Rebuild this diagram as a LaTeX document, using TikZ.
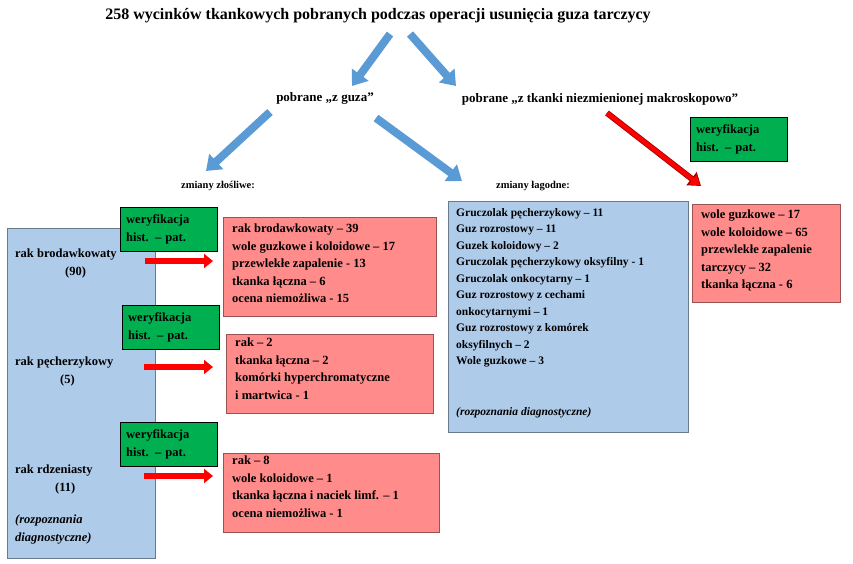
\documentclass[tikz,border=0pt]{standalone}
\usepackage{fontspec}
\setmainfont{Liberation Serif}
\usetikzlibrary{arrows.meta}
\begin{document}
\begin{tikzpicture}[x=1pt,y=-1pt,
  bx/.style={draw=#1!60!black, anchor=north west, inner sep=0pt, line width=0.8pt},
  txt/.style={font=\bfseries\fontsize{12.5}{17.5}\selectfont, align=left, anchor=north west, inner sep=0pt},
  ver/.style={draw=black, fill=vgreen, anchor=north west, minimum width=97pt, minimum height=44pt, font=\bfseries\fontsize{12.5}{17.5}\selectfont, align=left, text width=85pt, inner sep=5pt},
  barr/.style={line width=8pt, color=ablue, -{Triangle[length=14pt,width=20pt]}},
  rarr/.style={line width=6pt, color=ared, -{Triangle[length=9pt,width=14pt]}}]
\definecolor{lblue}{HTML}{AFCBEA}
\definecolor{lred}{HTML}{FF8B8B}
\definecolor{vgreen}{HTML}{00B050}
\definecolor{ablue}{HTML}{5B9BD5}
\definecolor{ared}{HTML}{FF0000}
\useasboundingbox (0,0) rectangle (853,564);
% title
\node[font=\bfseries\fontsize{16}{19}\selectfont] (title) at (378,16) {258 wycinków tkankowych pobranych podczas operacji usunięcia guza tarczycy};
\node[font=\bfseries\fontsize{13}{16}\selectfont] (guz) at (325,98) {pobrane „z guza”};
\node[font=\bfseries\fontsize{13}{16}\selectfont] (tk) at (600,99) {pobrane „z tkanki niezmienionej makroskopowo”};
\node[font=\bfseries\fontsize{10.5}{13}\selectfont] (zl) at (218,186) {zmiany złośliwe:};
\node[font=\bfseries\fontsize{10.5}{13}\selectfont] (lag) at (533,186) {zmiany łagodne:};
% blue arrows
\coordinate (a1s) at (390,34); \coordinate (a1e) at (352,86);
\coordinate (a2s) at (410,34); \coordinate (a2e) at (456,86);
\coordinate (a3s) at (270,112); \coordinate (a3e) at (206,171);
\coordinate (a4s) at (376,118); \coordinate (a4e) at (462,181);
\draw[barr] (a1s) -- (a1e);
\draw[barr] (a2s) -- (a2e);
\draw[barr] (a3s) -- (a3e);
\draw[barr] (a4s) -- (a4e);
\coordinate (a5s) at (607,113); \coordinate (a5e) at (701,186);
\draw[line width=6pt, color=ared!60!black, -{Triangle[length=12pt,width=16pt]}] (a5s) -- (a5e);
\draw[line width=4.5pt, color=ared, shorten >=1.5pt, -{Triangle[length=9pt,width=12pt]}] (a5s) -- (a5e);
% left blue box
\node[bx=lblue, fill=lblue, minimum width=148pt, minimum height=330pt] (lb) at (7,228) {};
\node[txt] (l1) at (15,249) {rak brodawkowaty\\\hspace*{50pt}(90)};
\node[txt] (l2) at (15,357) {rak pęcherzykowy\\\hspace*{45pt}(5)};
\node[txt] (l3) at (15,465) {rak rdzeniasty\\\hspace*{40pt}(11)};
\node[txt, font=\bfseries\itshape\fontsize{12.5}{17.5}\selectfont] (l4) at (15,515) {(rozpoznania\\diagnostyczne)};
% red boxes
\node[bx=lred, fill=lred, minimum width=213pt, minimum height=99pt] (r1) at (223,217) {};
\node[txt] at (232,224) {rak brodawkowaty – 39\\wole guzkowe i koloidowe – 17\\przewlekłe zapalenie - 13\\tkanka łączna – 6\\ocena niemożliwa - 15};
\node[bx=lred, fill=lred, minimum width=207pt, minimum height=79pt] (r2) at (226,334) {};
\node[txt] at (235,338) {rak – 2\\tkanka łączna – 2\\komórki hyperchromatyczne\\i martwica - 1};
\node[bx=lred, fill=lred, minimum width=216pt, minimum height=79pt] (r3) at (223,453) {};
\node[txt] at (232,456) {rak – 8\\wole koloidowe – 1\\tkanka łączna i naciek limf. – 1\\ocena niemożliwa - 1};
% green boxes
\node[ver] (g1) at (120,207) {weryfikacja\\hist. – pat.};
\node[ver] (g2) at (122,305) {weryfikacja\\hist. – pat.};
\node[ver] (g3) at (120,422) {weryfikacja\\hist. – pat.};
\node[ver] (g4) at (690,117) {weryfikacja\\hist. – pat.};
% red arrows
\coordinate (ra1) at (145,261); \coordinate (rb1) at (213,261);
\coordinate (ra2) at (144,367); \coordinate (rb2) at (213,367);
\coordinate (ra3) at (144,476); \coordinate (rb3) at (213,476);
\draw[rarr] (ra1) -- (rb1);
\draw[rarr] (ra2) -- (rb2);
\draw[rarr] (ra3) -- (rb3);
% middle blue box
\node[bx=lblue, fill=lblue, minimum width=240pt, minimum height=231pt] (mb) at (448,201) {};
\node[txt, font=\bfseries\fontsize{11.5}{16.5}\selectfont] at (456,208) {Gruczolak pęcherzykowy – 11\\Guz rozrostowy – 11\\Guzek koloidowy – 2\\Gruczolak pęcherzykowy oksyfilny - 1\\Gruczolak onkocytarny – 1\\Guz rozrostowy z cechami\\onkocytarnymi – 1\\Guz rozrostowy z komórek\\oksyfilnych – 2\\Wole guzkowe – 3};
\node[txt, font=\bfseries\itshape\fontsize{11.5}{16.5}\selectfont] at (456,407) {(rozpoznania diagnostyczne)};
% right red box
\node[bx=lred, fill=lred, minimum width=148pt, minimum height=98pt] (rr) at (692,204) {};
\node[txt] at (701,210) {wole guzkowe – 17\\wole koloidowe – 65\\przewlekłe zapalenie\\tarczycy – 32\\tkanka łączna - 6};
\end{tikzpicture}
\end{document}
